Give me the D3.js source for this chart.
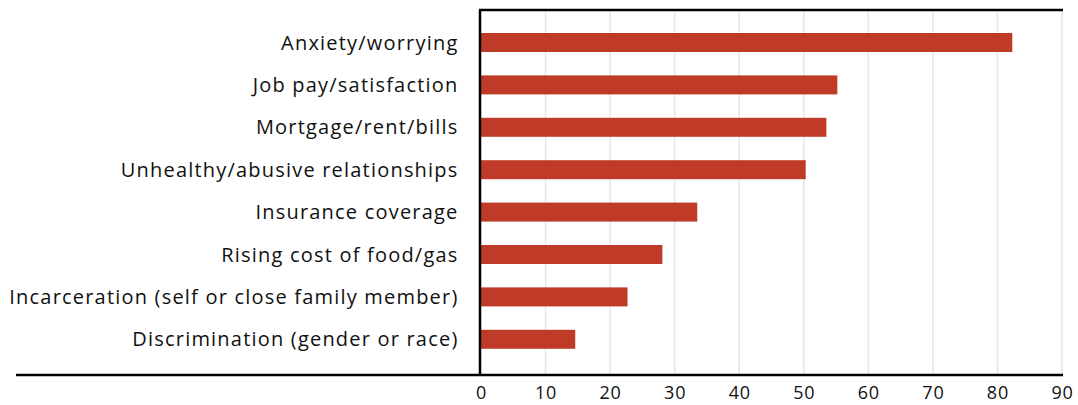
<!DOCTYPE html>
<html>
<head>
<meta charset="utf-8">
<script src="https://cdn.jsdelivr.net/npm/d3@7"></script>
<style>
  body { margin:0; background:#fff; }
  svg text { font-family: "Open Sans", "Lato", sans-serif; fill:#111; }
</style>
</head>
<body>
<svg id="viz" width="1078" height="405"></svg>
<script>
const categories = ["Anxiety/worrying","Job pay/satisfaction","Mortgage/rent/bills","Unhealthy/abusive relationships",
  "Insurance coverage","Rising cost of food/gas","Incarceration (self or close family member)","Discrimination (gender or race)"];
const values = [82.3, 55.2, 53.5, 50.3, 33.5, 28.1, 22.7, 14.6];
const xTicks = [0,10,20,30,40,50,60,70,80,90];

const svg = d3.select("#viz");
const m = {left:481, right:1062, top:10, bottom:375};
const x = d3.scaleLinear().domain([0,90]).range([m.left, m.right]);
const y = d3.scaleBand().domain(categories).range([21.3, 360.5]).paddingInner(0.552).paddingOuter(0.276);

// gridlines
svg.append("g").selectAll("line").data(xTicks.slice(1)).join("line")
  .attr("x1",d=>x(d)).attr("x2",d=>x(d)).attr("y1",m.top).attr("y2",m.bottom)
  .attr("stroke","#e6e6e6").attr("stroke-width",1.5);

// bars
svg.append("g").selectAll("rect").data(values).join("rect")
  .attr("x",x(0)).attr("y",(d,i)=>y(categories[i]))
  .attr("width",d=>x(d)-x(0)).attr("height",y.bandwidth())
  .attr("fill","#bf3b28");

// category labels
svg.append("g").selectAll("text").data(categories).join("text")
  .attr("x",458.5).attr("y",d=>y(d)+y.bandwidth()/2).attr("dy","0.35em")
  .attr("text-anchor","end").attr("font-size",20).attr("letter-spacing",1.2).text(d=>d);

// frame lines
svg.append("line").attr("x1",m.left-2).attr("x2",m.right+1).attr("y1",m.top).attr("y2",m.top)
  .attr("stroke","#000").attr("stroke-width",2.5);
svg.append("line").attr("x1",m.left-1).attr("x2",m.left-1).attr("y1",m.top).attr("y2",m.bottom)
  .attr("stroke","#000").attr("stroke-width",2.5);
svg.append("line").attr("x1",16).attr("x2",m.right+1).attr("y1",m.bottom).attr("y2",m.bottom)
  .attr("stroke","#000").attr("stroke-width",2.5);

// x axis tick labels
const ax = svg.append("g").attr("transform",`translate(0,${m.bottom})`)
  .call(d3.axisBottom(x).tickValues(xTicks).tickSize(0).tickPadding(11));
ax.select(".domain").remove();
ax.selectAll("text").attr("font-size",18).attr("letter-spacing",0.8)
  .style("font-family","'Open Sans', Lato, sans-serif").attr("fill","#111");
</script>
</body>
</html>
